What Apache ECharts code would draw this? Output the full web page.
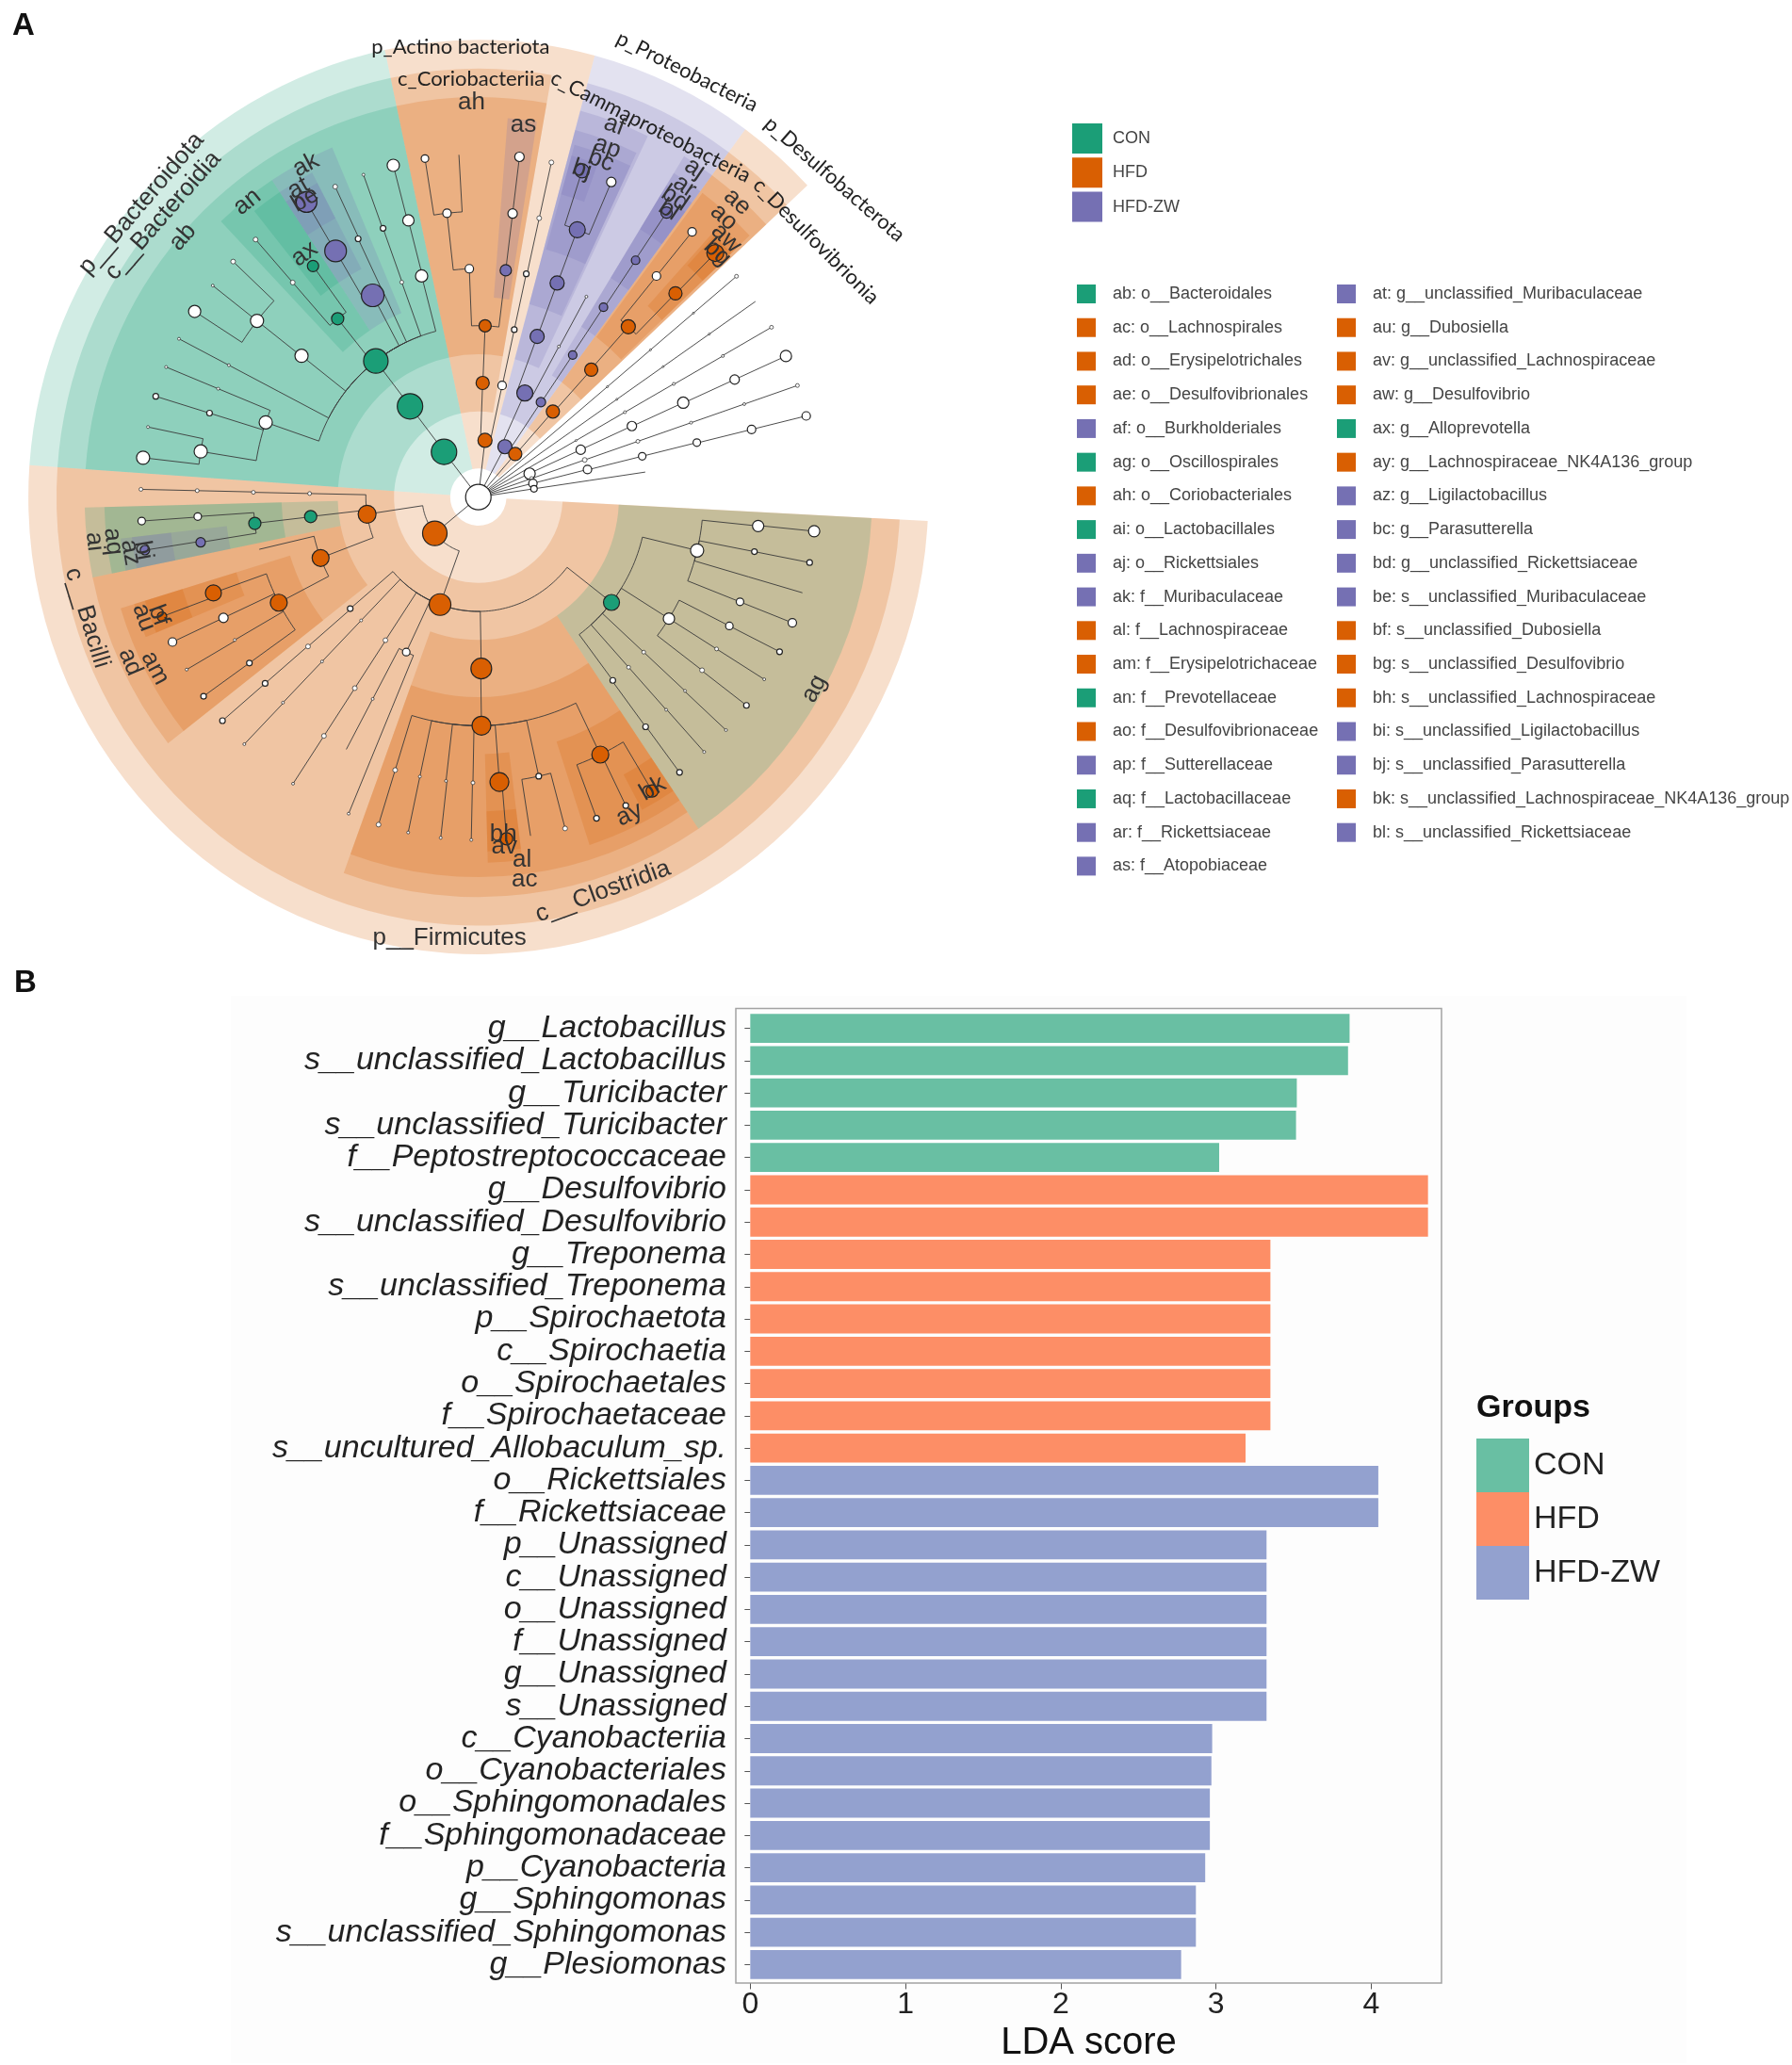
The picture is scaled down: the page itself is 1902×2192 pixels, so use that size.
<!DOCTYPE html>
<html><head><meta charset="utf-8"><style>html,body{margin:0;padding:0;background:#fff}#c{width:1902px;height:2192px}</style>
<script src="https://cdn.jsdelivr.net/npm/echarts@6/dist/echarts.min.js"></script></head>
<body><div id="c"></div><script>
// ---------- Panel B data ----------
const barTaxa = ['g__Lactobacillus','s__unclassified_Lactobacillus','g__Turicibacter','s__unclassified_Turicibacter','f__Peptostreptococcaceae','g__Desulfovibrio','s__unclassified_Desulfovibrio','g__Treponema','s__unclassified_Treponema','p__Spirochaetota','c__Spirochaetia','o__Spirochaetales','f__Spirochaetaceae','s__uncultured_Allobaculum_sp.','o__Rickettsiales','f__Rickettsiaceae','p__Unassigned','c__Unassigned','o__Unassigned','f__Unassigned','g__Unassigned','s__Unassigned','c__Cyanobacteriia','o__Cyanobacteriales','o__Sphingomonadales','f__Sphingomonadaceae','p__Cyanobacteria','g__Sphingomonas','s__unclassified_Sphingomonas','g__Plesiomonas'];
const ldaScores = [3.86,3.85,3.52,3.515,3.02,4.365,4.365,3.35,3.35,3.35,3.35,3.35,3.35,3.19,4.045,4.045,3.325,3.325,3.325,3.325,3.325,3.325,2.975,2.97,2.96,2.96,2.93,2.87,2.87,2.775];
const ldaGroups = ['CON','CON','CON','CON','CON','HFD','HFD','HFD','HFD','HFD','HFD','HFD','HFD','HFD','HFD-ZW','HFD-ZW','HFD-ZW','HFD-ZW','HFD-ZW','HFD-ZW','HFD-ZW','HFD-ZW','HFD-ZW','HFD-ZW','HFD-ZW','HFD-ZW','HFD-ZW','HFD-ZW','HFD-ZW','HFD-ZW'];
const ldaTicks = [0,1,2,3,4];
// ---------- Panel A legends ----------
const groupNames = ['CON','HFD','HFD-ZW'];
const keyColumn1 = [['ab: o__Bacteroidales','C'],['ac: o__Lachnospirales','H'],['ad: o__Erysipelotrichales','H'],['ae: o__Desulfovibrionales','H'],['af: o__Burkholderiales','Z'],['ag: o__Oscillospirales','C'],['ah: o__Coriobacteriales','H'],['ai: o__Lactobacillales','C'],['aj: o__Rickettsiales','Z'],['ak: f__Muribaculaceae','Z'],['al: f__Lachnospiraceae','H'],['am: f__Erysipelotrichaceae','H'],['an: f__Prevotellaceae','C'],['ao: f__Desulfovibrionaceae','H'],['ap: f__Sutterellaceae','Z'],['aq: f__Lactobacillaceae','C'],['ar: f__Rickettsiaceae','Z'],['as: f__Atopobiaceae','Z']];
const keyColumn2 = [['at: g__unclassified_Muribaculaceae','Z'],['au: g__Dubosiella','H'],['av: g__unclassified_Lachnospiraceae','H'],['aw: g__Desulfovibrio','H'],['ax: g__Alloprevotella','C'],['ay: g__Lachnospiraceae_NK4A136_group','H'],['az: g__Ligilactobacillus','Z'],['bc: g__Parasutterella','Z'],['bd: g__unclassified_Rickettsiaceae','Z'],['be: s__unclassified_Muribaculaceae','Z'],['bf: s__unclassified_Dubosiella','H'],['bg: s__unclassified_Desulfovibrio','H'],['bh: s__unclassified_Lachnospiraceae','H'],['bi: s__unclassified_Ligilactobacillus','Z'],['bj: s__unclassified_Parasutterella','Z'],['bk: s__unclassified_Lachnospiraceae_NK4A136_group','H'],['bl: s__unclassified_Rickettsiaceae','Z']];
// ---------- Panel A clade shading: [inner level, outer level, from angle, to angle, group] ----------
const phylumSectors = [[.5,8,102,176,'C'],[.5,8,75,102,'H'],[.5,8,53.6,75,'Z'],[.5,8,43,53.6,'H'],[.5,8,176,357,'H']];
const classSectors = [[1.5,7.5,102,176,'C'],[1.5,7.5,80,102,'H'],[1.5,7.5,53.6,75,'Z'],[1.5,7.5,43,53.6,'H'],[1.5,7.5,176,357,'H']];
const orderSectors = [[2.5,7,102,176,'C'],[2.5,7,80,102,'H'],[2.5,7,64.5,75,'Z'],[2.5,7,53.6,58.5,'Z'],[2.5,7,43,53.6,'H'],[2.5,7,191.6,218,'H'],[2.5,7,181.5,191.6,'C'],[2.5,7,250,304,'H'],[2.5,7,304,357,'C']];
const familySectors = [[3.5,6.65,113,123.5,'Z'],[3.5,6.65,123.5,133.5,'C'],[3.5,6.65,81,85.5,'Z'],[3.5,6.65,65,75,'Z'],[3.5,6.65,53.6,58.5,'Z'],[3.5,6.65,43.5,53.2,'H'],[3.5,6.65,197,218,'H'],[3.5,6.65,181.5,191.6,'C'],[3.5,6.65,250,304,'H']];
const genusSectors = [[4.5,6.4,117.5,123.5,'Z'],[4.5,6.4,123.5,128.5,'C'],[4.5,6.4,65,74.5,'Z'],[4.5,6.4,53.6,58.5,'Z'],[4.5,6.4,43.5,48,'H'],[4.5,6.4,197,202.5,'H'],[4.5,6.4,186.5,191.6,'Z'],[4.5,6.4,271.5,277,'H'],[4.5,6.4,288,304,'H']];
const speciesSectors = [[5.5,6.2,117.5,123.5,'Z'],[5.5,6.2,70,74.5,'Z'],[5.5,6.2,53.6,58.5,'Z'],[5.5,6.2,43.5,47.5,'H'],[5.5,6.2,197,202.5,'H'],[5.5,6.2,186.5,191.6,'Z'],[5.5,6.2,271.5,277,'H'],[5.5,6.2,298,304,'H']];
// ---------- Panel A tree nodes: [id, parent, level, angle, diameter, group] ----------
const rootNode = [['r',null,0,0,27,'N']];
const bacteroidotaNodes = [['b1','r',1,127.6,27,'C'],['b2','b1',2,127.4,27,'C'],['ab','b2',3,127.4,26,'C'],['ak','ab',4,118,24,'Z'],['at','ak',5,120.5,23,'Z'],['be','at',6,120.6,22,'Z'],['an','ab',4,128.7,13,'C'],['ax','an',5,126,12,'C'],['an2','an',5,131.3,5,'N'],['an3','an2',6,131.3,5,'N'],['b3','ab',4,141.8,14,'N'],['b4','b3',5,141.9,14,'N'],['b5','b4',6,136.6,5,'N'],['b6','b4',6,147.2,13,'N'],['b7','b4',6,141.9,3,'N'],['b8','ab',4,160.9,14,'N'],['b9','b8',5,157.7,3,'N'],['b10','b9',6,157.7,3,'N'],['b11','b8',5,162.9,6,'N'],['b12','b11',6,162.9,6,'N'],['b13','b8',5,170.8,14,'N'],['b14','b13',6,173.4,14,'N'],['b15','b13',6,168.2,3,'N'],['b16','ab',4,152.5,0,'N'],['b17','b16',5,152.5,3,'N'],['b18','b17',6,152.5,3,'N'],['b19','ab',4,104.6,13,'N'],['b20','b19',5,104.4,12,'N'],['b21','b20',6,104.6,13,'N'],['b22','ab',4,109.9,4,'N'],['b23','b22',5,109.8,6,'N'],['b24','b23',6,109.9,3,'N'],['b25','ab',4,115.2,0,'N'],['b26','b25',5,115.3,6,'N'],['b27','b26',6,115.1,5,'N']];
const actinoNodes = [['a1','r',1,83.2,15,'H'],['a2','a1',2,87.8,14,'H'],['ah','a2',3,87.7,13,'H'],['a3','ah',4,92.3,9,'N'],['a4','a3',5,96.4,9,'N'],['a5','a4',6,99.1,8,'N'],['a6','a4',6,93.3,0,'N'],['as','ah',4,83,12,'Z'],['a7','as',5,83,10,'N'],['a8','a7',6,83,10,'N'],['a9','a1',2,77.8,9,'N'],['a10','a9',3,77.7,6,'N'],['a11','a10',4,77.7,6,'N'],['a12','a11',5,77.5,5,'N'],['a13','a12',6,77.5,5,'N']];
const proteoNodes = [['p1','r',1,61.8,15,'Z'],['p2','p1',2,65.6,17,'Z'],['p3','p1',2,56.2,10,'Z'],['af','p2',3,69.6,15,'Z'],['p4','p2',3,61.5,3,'N'],['p5','p4',4,61.3,3,'N'],['aj','p3',3,56,9,'Z'],['ap','af',4,69.5,15,'Z'],['bc','ap',5,69.4,17,'Z'],['bj','bc',6,72.1,15,'Z'],['p6','bc',6,66.8,10,'N'],['ar','aj',4,56.2,9,'Z'],['bd','ar',5,56,9,'Z'],['bl','bd',6,56.1,12,'Z']];
const desulfoNodes = [['d1','r',1,49,14,'H'],['d2','d1',2,48.5,14,'H'],['ae','d2',3,48,14,'H'],['ao','ae',4,48.2,15,'H'],['aw','ao',5,45.5,14,'H'],['bg','aw',6,45.4,18,'H'],['d3','ao',5,50.7,9,'N'],['d4','d3',6,50.7,9,'N']];
const unlabeledNodes = [['u1','r',1,40.1,0,'N'],['u2','u1',2,40.1,0,'N'],['u3','u2',3,40.1,2,'N'],['u4','u3',4,40.1,2,'N'],['u5','u4',5,40.1,2,'N'],['u6','u5',6,40.1,4,'N'],
['v1','r',1,34.8,0,'N'],['v2','v1',2,34.8,0,'N'],['v3','v2',3,34.8,2,'N'],['v4','v3',4,34.8,2,'N'],['v5','v4',5,34.8,2,'N'],['v6','v5',6,34.8,0,'N'],
['w1','r',1,29.7,0,'N'],['w2','w1',2,29.7,2,'N'],['w3','w2',3,29.7,3,'N'],['w4','w3',4,29.7,3,'N'],['w5','w4',5,29.6,3,'N'],['w6','w5',6,29.7,4,'N'],
['x1','r',1,24.3,12,'N'],['x2','x1',2,24.5,10,'N'],['x3','x2',3,24.5,10,'N'],['x4','x3',4,24.4,12,'N'],['x5','x4',5,24.3,10,'N'],['x6','x5',6,24.3,12,'N'],
['y1','r',1,19,4,'N'],['y2','y1',2,19,5,'N'],['y3','y2',3,19,4,'N'],['y4','y3',4,19,3,'N'],['y5','y4',5,19,3,'N'],['y6','y5',6,19,4,'N'],
['z1','r',1,14,9,'N'],['z2','z1',2,14,9,'N'],['z3','z2',3,13.8,8,'N'],['z4','z3',4,13.8,8,'N'],['z5','z4',5,13.7,9,'N'],['z6','z5',6,13.7,9,'N'],
['t1','r',1,8.4,7,'N'],['t2','t1',2,8.4,0,'N'],['t3','t2',3,8.4,0,'N']];
const bacilliNodes = [['f1','r',1,219.3,26,'H'],['f2','f1',2,188.6,19,'H'],['ad','f2',3,200.8,18,'H'],['ai','f2',3,186.5,13,'C'],['f3','f2',3,178.8,4,'N'],['f4','f3',4,178.8,4,'N'],['f5','f4',5,178.7,4,'N'],['f6','f5',6,178.7,4,'N'],['aq','ai',4,186.6,13,'C'],['f7','aq',5,183.9,8,'N'],['f8','f7',6,184,8,'N'],['az','aq',5,189.1,10,'Z'],['bi','az',6,188.9,10,'Z'],['f9','ad',4,193.2,0,'N'],['am','ad',4,207.5,18,'H'],['au','am',5,199.6,17,'H'],['bf','au',6,200.4,10,'H'],['f10','am',5,205,10,'N'],['f11','f10',6,205,9,'N'],['f12','am',5,210,3,'N'],['f13','f12',6,210.2,3,'N'],['f14','am',5,215.5,6,'N'],['f15','f14',6,215.5,6,'N']];
const clostridiaNodes = [['g0','f1',2,250.1,23,'H'],['g1','g0',3,220.6,6,'N'],['g2','g1',4,220.8,5,'N'],['g3','g2',5,220.7,6,'N'],['g4','g3',6,220.7,6,'N'],['g5','g0',3,226,3,'N'],['g6','g5',4,226,3,'N'],['g7','g6',5,226,3,'N'],['g8','g7',6,226.1,3,'N'],['g9','g0',3,236.6,5,'N'],['g10','g9',4,236.7,5,'N'],['g11','g10',5,236.7,5,'N'],['g12','g11',6,236.7,3,'N'],['g13','g0',3,244.7,8,'N'],['g14','g13',4,242,3,'N'],['g15','g13',4,247.4,0,'N'],['g16','g15',5,247.4,0,'N'],['g17','g16',6,247.4,3,'N'],['g18','g14',5,242,0,'N'],['ac','g0',3,271,22,'H'],['al','ac',4,270.8,20,'H'],['g19','al',5,252.8,5,'N'],['g20','g19',6,252.8,5,'N'],['g21','al',5,258,3,'N'],['g22','g21',6,258,3,'N'],['g23','al',5,263.4,3,'N'],['g24','g23',6,263.6,3,'N'],['g25','al',5,268.9,4,'N'],['g26','g25',6,268.8,3,'N'],['av','al',5,274.3,20,'H'],['bh','av',6,274.8,13,'H'],['g27','al',5,282.4,6,'N'],['g28','g27',6,278.9,0,'N'],['g29','g27',6,284.9,5,'N'],['ay','al',5,295.7,18,'H'],['bk','ay',6,301,13,'H'],['g30','ay',6,295.9,6,'N'],['g31','ay',6,290.5,6,'N'],
['ag','g0',3,322.1,17,'C'],['h1','ag',4,327.9,12,'N'],['h2','ag',4,346.5,14,'N'],['h3','h2',5,354.2,12,'N'],['h4','h3',6,354.3,12,'N'],['h5','h2',5,349,6,'N'],['h6','h5',6,349,6,'N'],['h7','h2',5,338.5,8,'N'],['h8','h7',6,338.5,9,'N'],['h9','h2',5,343.8,0,'N'],['h10','h9',6,343.8,0,'N'],['h11','h1',5,333.2,8,'N'],['h12','h11',6,333.2,6,'N'],['h13','h1',5,327.9,4,'N'],['h14','h13',6,327.9,3,'N'],['h15','h1',5,322.7,5,'N'],['h16','h15',6,322.6,6,'N'],['h17','ag',4,311.9,4,'N'],['h18','h17',5,311.9,3,'N'],['h19','h18',6,312,3,'N'],['h20','ag',4,306.7,6,'N'],['h21','h20',5,306.5,6,'N'],['h22','h21',6,306.6,6,'N'],['h23','ag',4,317.3,4,'N'],['h24','h23',5,317.3,3,'N'],['h25','h24',6,317.2,3,'N']];
// ---------- Panel A text labels: [text, level, angle, rotation, face] ----------
const cladeLabels = [['p__Bacteroidota',7.89,139.4,49.4,'a'],['c__Bacteroidia',7.46,138.7,48.7,'a'],['ab',6.95,139.1,49,'a'],['an',6.6,128.5,38.5,'a'],['ak',6.57,117.8,28,'a'],['at',6.28,120.6,30,'a'],['be',6.05,120.6,30,'a'],['ax',5.26,126,36,'a'],['p_Actino bacteriota',7.88,92.3,0,'b'],['c_Coriobacteriia',7.31,91,0,'b'],['ah',6.91,91,0,'a'],['as',6.56,83,0,'a'],['c_Cammaproteobacteria',7.17,64.7,-27,'b'],['p_Proteobacteria',8.32,63.5,-26.6,'b'],['p_Desulfobacterota',8.43,41.3,-41,'b'],['c_Desulfovibrionia',7.49,36.7,-45,'b'],['af',6.94,69.6,-20,'a'],['ap',6.54,69.5,-20,'a'],['bj',6.02,72.2,-18,'a'],['bc',6.28,69.7,-20,'a'],['aj',6.92,56.2,-34,'a'],['ar',6.56,56,-34,'a'],['bd',6.29,56.2,-34,'a'],['bl',6.06,56,-34,'a'],['ae',6.92,48.3,-42,'a'],['ao',6.56,48.3,-42,'a'],['aw',6.32,45.8,-44,'a'],['bg',6.03,45.2,-44,'a'],['p__Firmicutes',7.73,266.2,0,'a'],['c__Clostridia',7.25,287.8,20,'a'],['ac',6.74,277,0,'a'],['al',6.39,277,0,'a'],['av',6.14,274.3,0,'a'],['bh',5.92,274.3,0,'a'],['ay',6.17,295.8,25,'a'],['bk',5.97,301.3,30,'a'],['ag',6.85,330.7,62,'a'],['c__Bacilli',7.27,196.9,-73,'a'],['ad',6.83,205,-67,'a'],['am',6.48,207.5,-62,'a'],['ai',6.87,186.5,-84,'a'],['aq',6.54,186.8,-84,'a'],['az',6.26,188.9,-80,'a'],['bi',6.03,188.9,-80,'a'],['au',6.31,199.5,-70,'a'],['bf',6.05,200,-70,'a']];

// ---------- styles ----------
const SANS = '"Liberation Sans", Arial, sans-serif';
const solid = {C:'#1b9e77',H:'#d95f02',Z:'#7570b3',N:'#ffffff'};
const tint = {C:'rgba(27,158,119,.2)',H:'rgba(217,95,2,.2)',Z:'rgba(117,112,179,.2)'};
const barColor = {'CON':'#69bfa3','HFD':'#fd8e66','HFD-ZW':'#93a1cf'};
const faces = {a:'26px '+SANS, b:'22px Lato, sans-serif'};
const STRETCH = 1.016; // the reference circle is very slightly taller than wide

const chart = echarts.init(document.getElementById('c'),null,{renderer:'canvas'});
const allNodes = [].concat(rootNode,bacteroidotaNodes,actinoNodes,proteoNodes,desulfoNodes,unlabeledNodes,bacilliNodes,clostridiaNodes);
const byId = {}; allNodes.forEach(n=>byId[n[0]]=n);
const visibleNodes = allNodes.filter(n=>n[4]>0);
const allSectors = [].concat(phylumSectors,classSectors,orderSectors,familySectors,genusSectors,speciesSectors);
const edgeRows = allNodes.filter(n=>n[1]).map(n=>[n[2],n[3],byId[n[1]][2],byId[n[1]][3]]);

const pt=(params,api,v)=>{const p=api.coord(v),cy=params.coordSys.cy;return [p[0],cy+(p[1]-cy)*STRETCH];};
function sectorItem(params,api){
  const r0=api.value(0),r1=api.value(1),a0=api.value(2),a1=api.value(3);
  const cs=params.coordSys, inner=api.coord([r0,a0]), outer=api.coord([r1,a0]);
  return {type:'sector',originX:cs.cx,originY:cs.cy,scaleY:STRETCH,shape:{cx:cs.cx,cy:cs.cy,r0:Math.hypot(inner[0]-cs.cx,inner[1]-cs.cy),r:Math.hypot(outer[0]-cs.cx,outer[1]-cs.cy),startAngle:-a0*Math.PI/180,endAngle:-a1*Math.PI/180,clockwise:false},style:{fill:tint[allSectors[params.dataIndex][4]]}};
}
function edgeItem(params,api){
  const L=api.value(0),a=api.value(1),Lp=api.value(2),pa=api.value(3);
  const pts=[pt(params,api,[L,a])];
  const steps=Math.max(1,Math.ceil(Math.abs(pa-a)/1.5));
  for(let i=0;i<=steps;i++) pts.push(pt(params,api,[Lp,a+(pa-a)*i/steps]));
  return {type:'polyline',shape:{points:pts},style:{fill:null,stroke:'#3a3a3a',lineWidth:.9}};
}
function nodeItem(params,api){
  const n=visibleNodes[params.dataIndex],p=pt(params,api,[api.value(0),api.value(1)]);
  return {type:'circle',shape:{cx:p[0],cy:p[1],r:n[4]/2},style:{fill:solid[n[5]],stroke:'#222',lineWidth:n[4]>5?1.2:.7}};
}
function labelItem(params,api){
  const row=cladeLabels[params.dataIndex], p=pt(params,api,[row[1],row[2]]);
  return {type:'text',x:p[0],y:p[1],rotation:row[3]*Math.PI/180,style:{text:row[0],font:faces[row[4]],fill:row[4]==='b'?'#222':'#333',align:'center',verticalAlign:'middle'}};
}

const graphics = [];
const txt=(text,x,y,font,fill)=>graphics.push({type:'text',x,y,style:{text,font,fill,align:'left',verticalAlign:'middle'}});
graphics.push({type:'rect',z:-2,shape:{x:245,y:1057,width:1545,height:1133},style:{fill:'#fdfdfd'}});
txt('A',13,28,'bold 33px '+SANS,'#111');
txt('B',15,1044,'bold 33px '+SANS,'#111');
groupNames.forEach((g,i)=>{
  graphics.push({type:'rect',shape:{x:1138,y:131+i*36.3,width:32,height:32},style:{fill:solid['CHZ'[i]]}});
  txt(g,1181,147+i*36.3,'18px '+SANS,'#444');
});
[[keyColumn1,1143,1181],[keyColumn2,1419,1457]].forEach(c=>c[0].forEach((row,i)=>{
  graphics.push({type:'rect',shape:{x:c[1],y:302+i*35.73,width:20,height:20},style:{fill:solid[row[1]]}});
  txt(row[0],c[2],312+i*35.73,'18px '+SANS,'#444');
}));
graphics.push({type:'rect',z:-1,shape:{x:781,y:1070.6,width:749,height:1034.4},style:{fill:'none',stroke:'#a3a3a3',lineWidth:1.5}});
txt('Groups',1567,1495,'bold 34px '+SANS,'#111');

chart.setOption({
  animation:false,
  backgroundColor:'#fff',
  graphic:{elements:graphics},
  polar:{center:[507.7,527.7],radius:[0,597]},
  radiusAxis:{type:'value',min:0,max:10,show:false,axisLine:{show:false},axisTick:{show:false},axisLabel:{show:false},splitLine:{show:false}},
  angleAxis:{type:'value',min:0,max:360,startAngle:0,clockwise:false,show:false,axisLine:{show:false},axisTick:{show:false},axisLabel:{show:false},splitLine:{show:false}},
  grid:{left:781,top:1074.5,width:749,height:1028,containLabel:false},
  xAxis:{type:'value',min:-0.093,max:4.452,offset:3,splitLine:{show:false},axisLine:{show:false},
    axisTick:{show:true,length:6,customValues:ldaTicks,lineStyle:{color:'#555'}},
    axisLabel:{customValues:ldaTicks,fontFamily:SANS,fontSize:32,color:'#222',margin:7},
    name:'LDA score',nameLocation:'middle',nameGap:43,nameTextStyle:{fontFamily:SANS,fontSize:40,color:'#111'}},
  yAxis:{type:'category',inverse:true,data:barTaxa,axisLine:{show:false},axisTick:{show:true,length:6,alignWithLabel:true,lineStyle:{color:'#555'}},
    axisLabel:{fontFamily:SANS,fontStyle:'italic',fontSize:34,color:'#222',margin:10,interval:0}},
  legend:{data:groupNames,orient:'vertical',left:1567,top:1527,padding:0,itemWidth:56,itemHeight:57,itemGap:0,selectedMode:false,icon:'rect',textStyle:{fontFamily:SANS,fontSize:34,color:'#222'}},
  series:[
    ...groupNames.map(g=>({name:g,type:'bar',stack:'lda',barWidth:'90%',itemStyle:{color:barColor[g]},data:ldaScores.map((v,i)=>ldaGroups[i]===g?v:null)})),
    {type:'custom',coordinateSystem:'polar',z:1,silent:true,renderItem:sectorItem,clip:false,data:allSectors.map(s=>s.slice(0,4))},
    {type:'custom',coordinateSystem:'polar',z:2,silent:true,renderItem:edgeItem,clip:false,data:edgeRows},
    {type:'custom',coordinateSystem:'polar',z:3,silent:true,renderItem:nodeItem,clip:false,data:visibleNodes.map(n=>[n[2],n[3]])},
    {type:'custom',coordinateSystem:'polar',z:4,silent:true,renderItem:labelItem,clip:false,data:cladeLabels.map(l=>[l[1],l[2]])}
  ]
});
</script></body></html>
